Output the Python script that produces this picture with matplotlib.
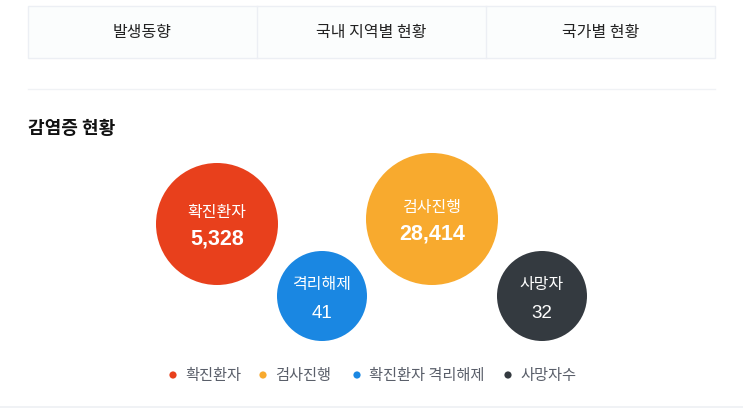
import matplotlib
matplotlib.use("Agg")
import matplotlib.pyplot as plt
from matplotlib.patches import Circle, Rectangle

plt.rcParams['font.family'] = ['Noto Sans CJK KR', 'DejaVu Sans']

# ---- data ----
tabs = ["발생동향", "국내 지역별 현황", "국가별 현황"]
title = "감염증 현황"
bubble_labels = ["확진환자", "격리해제", "검사진행", "사망자"]
bubble_values = [5328, 41, 28414, 32]
legend_labels = ["확진환자", "검사진행", "확진환자 격리해제", "사망자수"]

# ---- style / layout ----
bubble_colors = ["#e8401c", "#1a87e2", "#f8aa2e", "#343a40"]
legend_colors = ["#e8401c", "#f8aa2e", "#1a87e2", "#343a40"]
bubble_centers = [(217, 224), (322, 296), (432, 219), (542, 296)]
bubble_radii = [61, 45, 66, 45]
value_sizes = [15.5, 13.5, 15.5, 13.5]
value_weights = ["bold", "normal", "bold", "normal"]
value_offsets = [15, 17, 15, 17]
legend_dot_x = [173, 263, 357, 508]

W, H = 743, 411
fig = plt.figure(figsize=(W / 100, H / 100), dpi=100)
ax = fig.add_axes([0, 0, 1, 1])
ax.set_xlim(0, W)
ax.set_ylim(H, 0)
ax.axis('off')

# tabs
tab_left, tab_right, tab_top, tab_bot = 28, 715, 6, 58
ax.add_patch(Rectangle((tab_left, tab_top), tab_right - tab_left, tab_bot - tab_top,
                       facecolor="#fbfdfd", edgecolor="#eceff4", lw=1))
tw = (tab_right - tab_left) / len(tabs)
for i, t in enumerate(tabs):
    if i > 0:
        ax.plot([tab_left + i * tw] * 2, [tab_top, tab_bot], color="#eceff4", lw=1)
    ax.text(tab_left + (i + 0.5) * tw, 32, t, ha='center', va='center',
            fontsize=11.5, color="#222222")

# separator
ax.plot([tab_left, tab_right], [89, 89], color="#f0f2f5", lw=1)

# title
ax.text(28, 128, title, ha='left', va='center', fontsize=13,
        fontweight='bold', color="#111111")

# bubbles
for lab, val, col, (cx, cy), r, vs, vw, vo in zip(bubble_labels, bubble_values, bubble_colors,
                                                   bubble_centers, bubble_radii, value_sizes,
                                                   value_weights, value_offsets):
    ax.add_patch(Circle((cx, cy), r, facecolor=col, edgecolor='none'))
    ax.text(cx, cy - 12, lab, ha='center', va='center', fontsize=11.5, color='white')
    ax.text(cx, cy + vo, f"{val:,}", ha='center', va='center', fontsize=vs,
            fontweight=vw, color='white', family=['Liberation Sans', 'DejaVu Sans'])

# legend
for x, lab, col in zip(legend_dot_x, legend_labels, legend_colors):
    ax.add_patch(Circle((x, 375), 3.6, facecolor=col, edgecolor='none'))
    ax.text(x + 12, 375, lab, ha='left', va='center', fontsize=11, color="#5a5f6a")

# bottom line
ax.plot([0, W], [407, 407], color="#eef0f4", lw=1.2)

fig.savefig("out.png", dpi=100)
